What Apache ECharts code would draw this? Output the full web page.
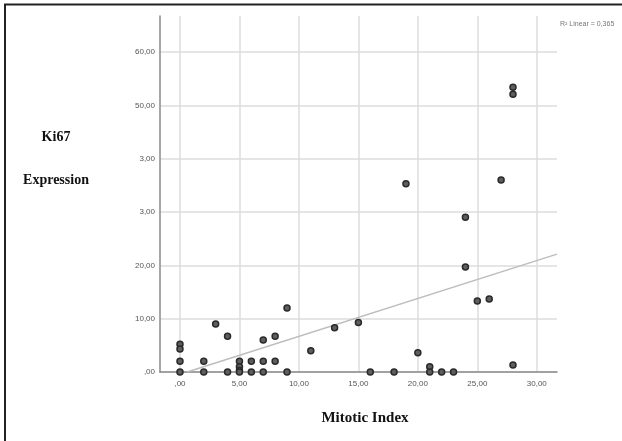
<!DOCTYPE html>
<html>
<head>
<meta charset="utf-8">
<script src="https://cdn.jsdelivr.net/npm/echarts@6/dist/echarts.min.js"></script>
<style>html,body{margin:0;padding:0;background:#fff}#c{width:622px;height:441px}</style>
</head>
<body>
<div id="c"></div>
<script>
// Mitotic index (x) vs Ki67 expression (y)
const mitoticIndex = [0,0,0,0, 2,2, 3, 4,4, 5,5,5,5, 6,6, 7,7,7, 8,8, 9,9, 11, 13, 15, 16, 18, 19, 20, 21,21, 22, 23, 24,24, 25, 26, 27, 28,28,28];
const ki67 = [5.2,4.3,2,0, 2,0, 9, 6.7,0, 2,1,0.3,0, 2,0, 6,2,0, 6.7,2, 12,0, 4, 8.3, 9.3, 0, 0, 35.3, 3.6, 1,0, 0, 0, 29,19.7, 13.3, 13.7, 36, 53.4,52.1,1.3];
const xTicks = [0,5,10,15,20,25,30];
const xTickLabels = [',00','5,00','10,00','15,00','20,00','25,00','30,00'];
const yTicks = [0,10,20,30,40,50,60];
const yTickLabels = [',00','10,00','20,00','3,00','3,00','50,00','60,00'];
const fitLine = [[0.6,0],[31.7,22.1]];
const rSquaredText = 'R\u00b2 Linear = 0,365';

const points = mitoticIndex.map((x,i)=>[x,ki67[i]]);
const chart = echarts.init(document.getElementById('c'));
const lbl = (ticks, labels) => v => { const i = ticks.indexOf(Math.round(v*100)/100); return i>=0 ? labels[i] : ''; };
chart.setOption({
  animation:false,
  grid:{left:160,right:65,top:16,bottom:69,containLabel:false},
  xAxis:{type:'value',min:-1.68,max:31.7,
    axisLine:{onZero:false,lineStyle:{color:'#8a8a8a',width:1.5}},
    axisTick:{show:false,customValues:xTicks},
    axisLabel:{customValues:xTicks,formatter:lbl(xTicks,xTickLabels),color:'#555',fontSize:8,fontFamily:'Liberation Sans',margin:8},
    splitLine:{show:true,lineStyle:{color:'#dcdcdc',width:1.5}}},
  yAxis:{type:'value',min:0,max:66.75,
    axisLine:{show:true,onZero:false,lineStyle:{color:'#8a8a8a',width:1.5}},
    axisTick:{show:false,customValues:yTicks},
    axisLabel:{customValues:yTicks,formatter:lbl(yTicks,yTickLabels),color:'#555',fontSize:8,fontFamily:'Liberation Sans',margin:5},
    splitLine:{show:true,lineStyle:{color:'#dcdcdc',width:1.5}}},
  series:[
    {type:'line',data:fitLine,symbol:'none',lineStyle:{color:'#bdbdbd',width:1.5},z:2},
    {type:'scatter',data:points,symbol:'circle',symbolSize:6,itemStyle:{color:'#5e5e5e',borderColor:'#2a2a2a',borderWidth:1.5,opacity:1},z:3}
  ],
  graphic:[
    {type:'line',shape:{x1:4,y1:4.5,x2:622,y2:4.5},style:{stroke:'#222',lineWidth:2}},
    {type:'line',shape:{x1:5,y1:4,x2:5,y2:441},style:{stroke:'#222',lineWidth:2}},
    {type:'text',left:560,top:21,style:{text:rSquaredText,fill:'#777',fontSize:7,fontFamily:'Liberation Sans'}},
    {type:'text',x:56,y:137,style:{text:'Ki67',fill:'#111',font:'bold 14px "Liberation Serif"',textAlign:'center',textVerticalAlign:'middle'}},
    {type:'text',x:56,y:180,style:{text:'Expression',fill:'#111',font:'bold 14px "Liberation Serif"',textAlign:'center',textVerticalAlign:'middle'}},
    {type:'text',x:365,y:418,style:{text:'Mitotic Index',fill:'#111',font:'bold 15px "Liberation Serif"',textAlign:'center',textVerticalAlign:'middle'}}
  ]
});
</script>
</body>
</html>
